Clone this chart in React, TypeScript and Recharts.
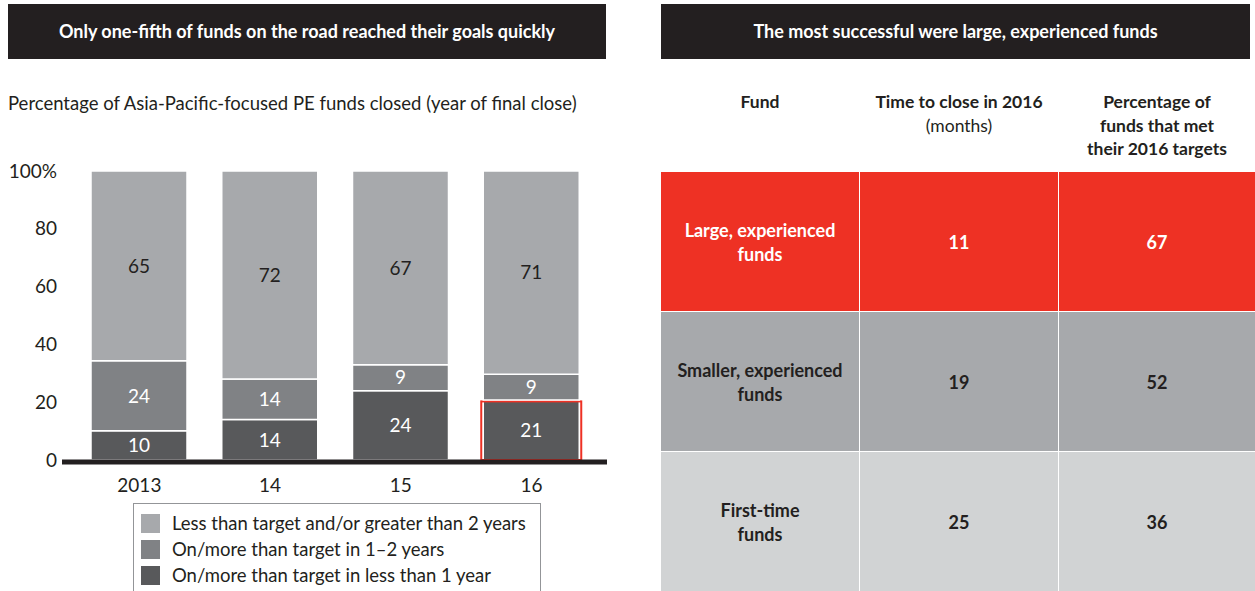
import React from 'react';
import { BarChart, Bar, XAxis, YAxis, LabelList } from 'recharts';

// ---- Left panel data ----
const years = ['2013', '14', '15', '16'];
const lessThanTarget = [65, 72, 67, 71];
const target1to2Years = [24, 14, 9, 9];
const targetUnder1Year = [10, 14, 24, 21];
const yTicks = [0, 0.2, 0.4, 0.6, 0.8, 1];
const yTickLabels = ['0', '20', '40', '60', '80', '100%'];
const seriesNames = [
  'Less than target and/or greater than 2 years',
  'On/more than target in 1\u20132 years',
  'On/more than target in less than 1 year',
];
const seriesColors = ['#a7a9ac', '#808285', '#58595b'];

// ---- Right panel data ----
const tableHeaders = [
  { bold: ['Fund'], light: [] as string[] },
  { bold: ['Time to close in 2016'], light: ['(months)'] },
  { bold: ['Percentage of', 'funds that met', 'their 2016 targets'], light: [] as string[] },
];
const fundNames = [
  ['Large, experienced', 'funds'],
  ['Smaller, experienced', 'funds'],
  ['First-time', 'funds'],
];
const timeToClose = [11, 19, 25];
const pctMetTargets = [67, 52, 36];
const rowColors = ['#ee3124', '#a7a9ac', '#d1d3d4'];
const rowTextColors = ['#ffffff', '#231f20', '#231f20'];

const FONT = 'Lato, "Open Sans", sans-serif';
const DARK = '#231f20';
const RED = '#ee3124';

const data = years.map((y, i) => ({
  year: y,
  under1: targetUnder1Year[i],
  oneTwo: target1to2Years[i],
  less: lessThanTarget[i],
}));

const DarkShape = (props: any) => {
  const { x, y, width, height, index, fill } = props;
  return (
    <g>
      <rect x={x} y={y} width={width} height={height} fill={fill} stroke="#fff" strokeWidth={1.5} />
      {index === years.length - 1 && (
        <rect
          x={x - 2}
          y={y + 1.5}
          width={width + 4}
          height={height - 1.5}
          fill="none"
          stroke={RED}
          strokeWidth={2}
        />
      )}
    </g>
  );
};

const XTick = (props: any) => {
  const { x, y, payload } = props;
  return (
    <text x={x} y={y + 22} textAnchor="middle" dominantBaseline="central" fill={DARK} fontSize={19} fontFamily={FONT}>
      {payload.value}
    </text>
  );
};

const YTick = (props: any) => {
  const { x, y, payload, index } = props;
  return (
    <text x={x} y={y - 1} textAnchor="end" dominantBaseline="central" fill={DARK} fontSize={19} fontFamily={FONT}>
      {yTickLabels[index] ?? payload.value}
    </text>
  );
};

const titleStyle = (left: number, width: number): React.CSSProperties => ({
  position: 'absolute',
  left,
  top: 4,
  width,
  height: 55,
  background: DARK,
  color: '#fff',
  fontFamily: FONT,
  fontWeight: 700,
  fontSize: 18,
  lineHeight: '55px',
  textAlign: 'center',
  whiteSpace: 'nowrap',
});

const colLefts = [661, 860, 1059];
const colWidths = [198, 198, 196];

export default function App() {
  return (
    <div
      style={{
        position: 'absolute',
        left: 0,
        top: 0,
        width: 1255,
        height: 591,
        overflow: 'hidden',
        background: '#fff',
        fontFamily: FONT,
        color: DARK,
      }}
    >
      {/* Left title */}
      <div style={titleStyle(8, 598)}>Only one-fifth of funds on the road reached their goals quickly</div>
      <div
        style={{
          position: 'absolute',
          left: 8,
          top: 90,
          fontSize: 18.5,
          lineHeight: '26px',
          whiteSpace: 'nowrap',
        }}
      >
        Percentage of Asia-Pacific-focused PE funds closed (year of final close)
      </div>

      <div style={{ position: 'absolute', left: 0, top: 150 }}>
        <BarChart
          width={620}
          height={350}
          data={data}
          margin={{ top: 21, right: 13, left: 0, bottom: 0 }}
          stackOffset="expand"
          barSize={96}
        >
          <XAxis
            dataKey="year"
            height={40}
            tickLine={false}
            tickSize={0}
            tick={<XTick />}
            padding={{ left: 12, right: 10 }}
            axisLine={{ stroke: DARK, strokeWidth: 5, transform: 'translate(0,2)' }}
          />
          <YAxis
            width={62}
            domain={[0, 1]}
            ticks={yTicks}
            axisLine={false}
            tickLine={false}
            tickSize={0}
            tickMargin={5}
            tick={<YTick />}
          />
          <Bar dataKey="under1" stackId="a" fill={seriesColors[2]} isAnimationActive={false} shape={<DarkShape />}>
            <LabelList dataKey="under1" position="center" fill="#fff" fontSize={19} fontFamily={FONT} />
          </Bar>
          <Bar dataKey="oneTwo" stackId="a" fill={seriesColors[1]} stroke="#fff" strokeWidth={1.5} isAnimationActive={false}>
            <LabelList dataKey="oneTwo" position="center" fill="#fff" fontSize={19} fontFamily={FONT} />
          </Bar>
          <Bar dataKey="less" stackId="a" fill={seriesColors[0]} stroke="#fff" strokeWidth={1.5} isAnimationActive={false}>
            <LabelList dataKey="less" position="center" fill={DARK} fontSize={19} fontFamily={FONT} />
          </Bar>
        </BarChart>
      </div>

      {/* Legend */}
      <div
        style={{
          position: 'absolute',
          left: 133,
          top: 503,
          width: 408,
          height: 100,
          border: '1px solid #939598',
          boxSizing: 'border-box',
        }}
      >
        {seriesNames.map((name, i) => (
          <div
            key={name}
            style={{
              position: 'absolute',
              left: 7,
              top: 6 + i * 26,
              height: 26,
              display: 'flex',
              alignItems: 'center',
              whiteSpace: 'nowrap',
            }}
          >
            <div style={{ width: 19, height: 19, background: seriesColors[i], marginRight: 12 }} />
            <span style={{ fontSize: 18.5 }}>{name}</span>
          </div>
        ))}
      </div>

      {/* Right title */}
      <div style={titleStyle(661, 589)}>The most successful were large, experienced funds</div>

      {/* Table header */}
      {tableHeaders.map((h, c) => (
        <div
          key={c}
          style={{
            position: 'absolute',
            left: colLefts[c],
            top: 90,
            width: colWidths[c],
            textAlign: 'center',
            fontSize: 17.5,
            lineHeight: '23.5px',
            whiteSpace: 'nowrap',
          }}
        >
          {h.bold.map((t) => (
            <div key={t} style={{ fontWeight: 700 }}>{t}</div>
          ))}
          {h.light.map((t) => (
            <div key={t} style={{ fontWeight: 400 }}>{t}</div>
          ))}
        </div>
      ))}

      {/* Table rows */}
      {fundNames.map((name, r) => {
        const cells = [name, [String(timeToClose[r])], [String(pctMetTargets[r])]];
        return cells.map((lines, c) => (
          <div
            key={`${r}-${c}`}
            style={{
              position: 'absolute',
              left: colLefts[c],
              top: 172 + r * 140,
              width: colWidths[c],
              height: 139,
              background: rowColors[r],
              color: rowTextColors[r],
              display: 'flex',
              flexDirection: 'column',
              justifyContent: 'center',
              alignItems: 'center',
              fontWeight: 700,
              fontSize: 18,
              lineHeight: '24px',
              textAlign: 'center',
              whiteSpace: 'nowrap',
            }}
          >
            {lines.map((t) => (
              <div key={t}>{t}</div>
            ))}
          </div>
        ));
      })}
    </div>
  );
}
